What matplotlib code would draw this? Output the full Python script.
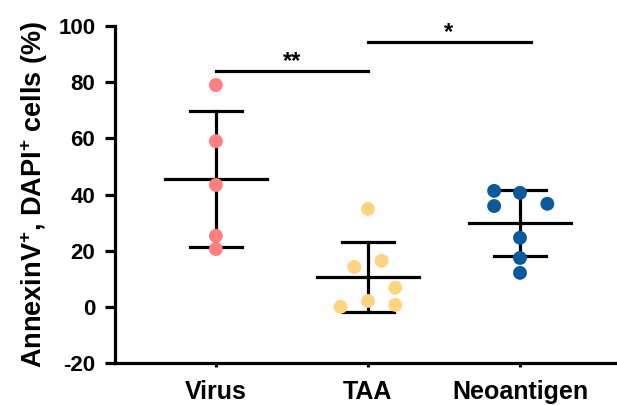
import numpy as np
import matplotlib
matplotlib.use("Agg")
import matplotlib.pyplot as plt

plt.rcParams['font.family'] = ['Liberation Sans', 'DejaVu Sans']
plt.rcParams['font.weight'] = 'bold'
plt.rcParams['mathtext.fontset'] = 'custom'
plt.rcParams['mathtext.rm'] = 'Liberation Sans:bold'
plt.rcParams['mathtext.bf'] = 'Liberation Sans:bold'
plt.rcParams['axes.unicode_minus'] = False

# Data
groups = ["Virus", "TAA", "Neoantigen"]
virus = [79.0, 59.0, 43.4, 25.3, 20.6]
taa = [34.9, 14.2, 16.4, 6.8, 2.1, 0.0, 0.7]
neoantigen = [41.3, 40.6, 35.9, 36.7, 24.6, 17.4, 12.1]
# horizontal scatter of the dots within each column
virus_jitter = [0, 0, 0, 0, 0]
taa_jitter = [0, -0.09, 0.09, 0.18, 0, -0.18, 0.18]
neo_jitter = [-0.17, 0, -0.17, 0.18, 0, 0, 0]
colors = ["#FF7F7F", "#FFD47F", "#0B5A9E"]

values = [virus, taa, neoantigen]
jitters = [virus_jitter, taa_jitter, neo_jitter]

fig = plt.figure(figsize=(6.17, 4.05), dpi=100)
ax = fig.add_axes([0.186, 0.1037, 0.814, 0.832])

LW = 2.3
for i, (vals, jit, col) in enumerate(zip(values, jitters, colors)):
    vals = np.array(vals)
    m, sd = vals.mean(), vals.std(ddof=1)
    ax.plot([i, i], [m - sd, m + sd], color="black", lw=LW, zorder=2)
    ax.plot([i - 0.17, i + 0.17], [m + sd] * 2, color="black", lw=LW, zorder=2)
    ax.plot([i - 0.17, i + 0.17], [m - sd] * 2, color="black", lw=LW, zorder=2)
    ax.plot([i - 0.335, i + 0.335], [m, m], color="black", lw=LW, zorder=2)
    ax.scatter(i + np.array(jit), vals, s=100, color=col, edgecolor="none", zorder=3)

# significance bars
ax.plot([0, 1], [84, 84], color="black", lw=LW, clip_on=False)
ax.text(0.5, 85.2, "**", ha="center", va="baseline", fontsize=17, fontweight="bold")
ax.plot([1, 2.07], [94.4, 94.4], color="black", lw=LW, clip_on=False)
ax.text(1.533, 95.4, "*", ha="center", va="baseline", fontsize=17, fontweight="bold")

ax.set_xlim(-0.665, 2.638)
ax.set_ylim(-20, 100)
ax.set_yticks([-20, 0, 20, 40, 60, 80, 100])
ax.set_xticks(range(3))
ax.set_xticklabels(groups, fontsize=18, fontweight="bold")
ax.tick_params(axis='y', labelsize=16, width=LW, length=7, pad=7)
ax.tick_params(axis='x', width=LW, length=3, pad=9.5)
for lab in ax.get_yticklabels():
    lab.set_fontweight("bold")

ax.set_ylabel(r"AnnexinV$^{\mathbf{+}}$, DAPI$^{\mathbf{+}}$ cells (%)",
              fontsize=19.5, fontweight="bold", labelpad=6)

ax.spines['top'].set_visible(False)
ax.spines['right'].set_visible(False)
for s in ['left', 'bottom']:
    ax.spines[s].set_linewidth(LW)

fig.savefig("out.png", dpi=100)
